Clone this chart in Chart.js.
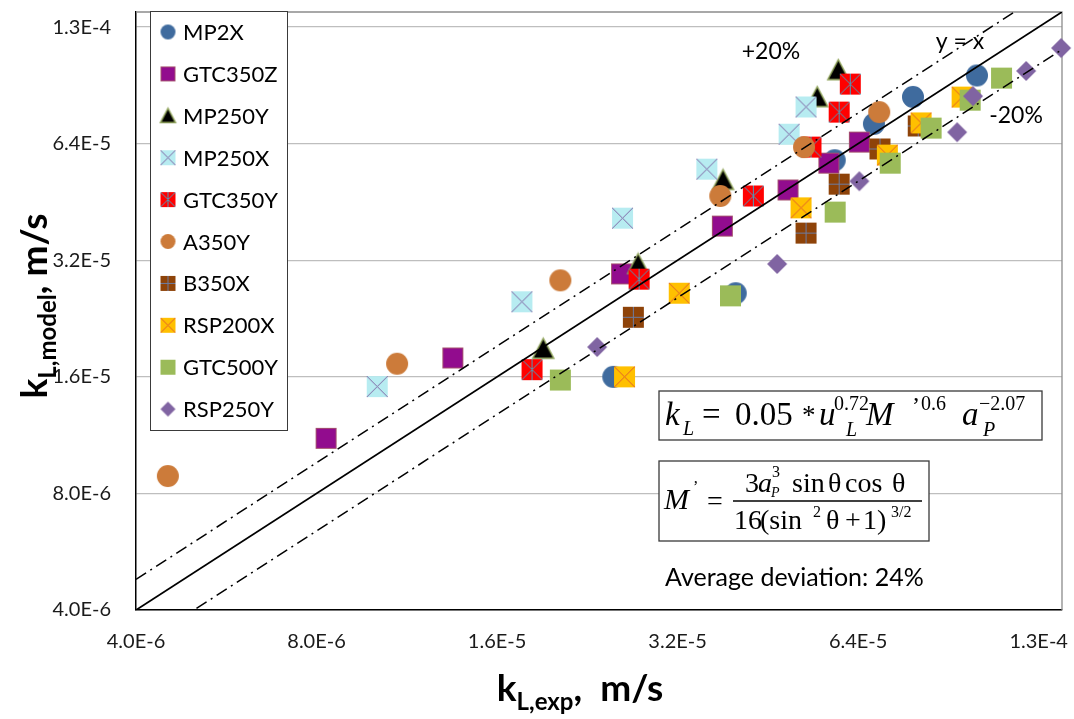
<!DOCTYPE html>
<html>
<head>
<meta charset="utf-8">
<script src="https://cdn.jsdelivr.net/npm/chart.js@4.4.0/dist/chart.umd.min.js"></script>
<style>
  html, body { margin: 0; padding: 0; background: #fff; }
  canvas { display: block; }
</style>
</head>
<body>
<canvas id="kLChart" width="1074" height="719"></canvas>
<script>
// both axes: log base 2, same range
var axisMin = 4.0e-6, axisMax = 1.4e-4;
var tickValues = [4.0e-6, 8.0e-6, 1.6e-5, 3.2e-5, 6.4e-5, 1.28e-4];
var tickLabels = ['4.0E-6', '8.0E-6', '1.6E-5', '3.2E-5', '6.4E-5', '1.3E-4'];

var seriesNames = ['MP2X', 'GTC350Z', 'MP250Y', 'MP250X', 'GTC350Y', 'A350Y', 'B350X', 'RSP200X', 'GTC500Y', 'RSP250Y'];

// kL measured (x) and kL from the model (y), m/s
var mp2xExp = [2.5e-5, 4.0e-5, 5.85e-5, 6.8e-5, 7.9e-5, 1.01e-4];
var mp2xModel = [1.6e-5, 2.63e-5, 5.8e-5, 7.2e-5, 8.45e-5, 9.6e-5];
var gtc350zExp = [8.3e-6, 1.35e-5, 2.58e-5, 3.8e-5, 4.89e-5, 5.72e-5, 6.43e-5];
var gtc350zModel = [1.11e-5, 1.79e-5, 2.95e-5, 3.92e-5, 4.86e-5, 5.7e-5, 6.46e-5];
var mp250yExp = [1.91e-5, 2.75e-5, 3.81e-5, 5.47e-5, 5.93e-5];
var mp250yModel = [1.89e-5, 3.13e-5, 5.16e-5, 8.44e-5, 9.91e-5];
var mp250xExp = [1.01e-5, 1.76e-5, 2.59e-5, 3.58e-5, 4.91e-5, 5.24e-5];
var mp250xModel = [1.51e-5, 2.5e-5, 4.11e-5, 5.5e-5, 6.77e-5, 7.96e-5];
var gtc350yExp = [1.83e-5, 2.76e-5, 4.28e-5, 5.34e-5, 5.95e-5, 6.21e-5];
var gtc350yModel = [1.67e-5, 2.86e-5, 4.69e-5, 6.27e-5, 7.72e-5, 9.12e-5];
var a350yExp = [4.52e-6, 1.09e-5, 2.04e-5, 3.77e-5, 5.2e-5, 6.94e-5];
var a350yModel = [8.87e-6, 1.73e-5, 2.84e-5, 4.69e-5, 6.27e-5, 7.72e-5];
var b350xExp = [2.7e-5, 5.24e-5, 5.95e-5, 6.96e-5, 8.06e-5];
var b350xModel = [2.28e-5, 3.76e-5, 5.03e-5, 6.2e-5, 7.11e-5];
var rsp200xExp = [2.61e-5, 3.22e-5, 5.14e-5, 7.16e-5, 8.15e-5, 9.54e-5];
var rsp200xModel = [1.6e-5, 2.63e-5, 4.37e-5, 5.98e-5, 7.24e-5, 8.44e-5];
var gtc500yExp = [2.04e-5, 3.92e-5, 5.86e-5, 7.24e-5, 8.47e-5, 9.84e-5, 1.11e-4];
var gtc500yModel = [1.57e-5, 2.59e-5, 4.26e-5, 5.7e-5, 7.02e-5, 8.29e-5, 9.45e-5];
var rsp250yExp = [2.35e-5, 4.69e-5, 6.43e-5, 9.36e-5, 9.95e-5, 1.22e-4, 1.395e-4];
var rsp250yModel = [1.91e-5, 3.13e-5, 5.12e-5, 6.85e-5, 8.49e-5, 9.86e-5, 1.13e-4];

// +20%, y = x, -20%
var bandRatios = [1.2, 1.0, 0.8];

var expSets = [mp2xExp, gtc350zExp, mp250yExp, mp250xExp, gtc350yExp, a350yExp, b350xExp, rsp200xExp, gtc500yExp, rsp250yExp];
var modelSets = [mp2xModel, gtc350zModel, mp250yModel, mp250xModel, gtc350yModel, a350yModel, b350xModel, rsp200xModel, gtc500yModel, rsp250yModel];

// marker look per series: shape, fill, line colour of the inner cross
var markerLook = [
  ['circle', '#3F6B9E', null],
  ['square', '#920C8E', '#A4506E'],
  ['triangle', '#000000', '#8FA35A'],
  ['squareX', '#B7ECF1', '#8068A6'],
  ['squareStar', '#FF0000', '#4C9CBA'],
  ['circle', '#CC7B3A', null],
  ['squarePlus', '#8E4309', '#6C7CA2'],
  ['squareX', '#FFC000', '#E2602C'],
  ['square', '#9BBB59', null],
  ['diamond', '#8064A2', null]
];

function marker(look, size) {
  var kind = look[0], fill = look[1], line = look[2];
  var c = document.createElement('canvas');
  c.width = c.height = size + 4;
  var g = c.getContext('2d'), m = c.width / 2, h = size / 2;
  g.fillStyle = fill;
  if (kind === 'circle') {
    g.beginPath(); g.arc(m, m, h, 0, Math.PI * 2); g.fill();
  } else if (kind === 'triangle') {
    g.beginPath(); g.moveTo(m, m - h); g.lineTo(m + h, m + h * 0.9); g.lineTo(m - h, m + h * 0.9); g.closePath();
    g.fill(); g.strokeStyle = line; g.lineWidth = 1.5; g.stroke();
  } else if (kind === 'diamond') {
    g.beginPath(); g.moveTo(m, m - h); g.lineTo(m + h, m); g.lineTo(m, m + h); g.lineTo(m - h, m); g.closePath(); g.fill();
  } else {
    g.fillRect(m - h, m - h, size, size);
    if (kind === 'square' && line) { g.strokeStyle = line; g.lineWidth = 1; g.strokeRect(m - h + 0.5, m - h + 0.5, size - 1, size - 1); }
    g.strokeStyle = line; g.lineWidth = 1;
    g.beginPath();
    if (kind === 'squareX' || kind === 'squareStar') {
      g.moveTo(m - h, m - h); g.lineTo(m + h, m + h);
      g.moveTo(m + h, m - h); g.lineTo(m - h, m + h);
    }
    if (kind === 'squareStar' || kind === 'squarePlus') { g.moveTo(m, m - h); g.lineTo(m, m + h); }
    if (kind === 'squarePlus') { g.moveTo(m - h, m); g.lineTo(m + h, m); }
    g.stroke();
  }
  return c;
}

var datasets = seriesNames.map(function (name, i) {
  var look = markerLook[i];
  var size = look[0] === 'circle' ? 22 : (look[0] === 'diamond' ? 20 : 21);
  return {
    label: name,
    data: expSets[i].map(function (x, k) { return { x: x, y: modelSets[i][k] }; }),
    pointStyle: marker(look, size),
    legendStyle: marker(look, 15),
    clip: false,
    order: seriesNames.length - i
  };
});

bandRatios.forEach(function (r) {
  datasets.push({
    label: r === 1 ? 'y = x' : (r > 1 ? '+20%' : '-20%'),
    data: [{ x: axisMin, y: axisMin * r }, { x: axisMax, y: axisMax * r }],
    showLine: true,
    pointRadius: 0,
    borderColor: '#000',
    borderWidth: r === 1 ? 1.8 : 1.5,
    borderDash: r === 1 ? [] : [12, 5, 2, 5],
    order: 0
  });
});

var tickFont = { family: 'Lato', size: 20 };

function logAxis(isY) {
  return {
    type: 'logarithmic',
    min: axisMin,
    max: axisMax,
    afterBuildTicks: function (s) { s.ticks = tickValues.map(function (v) { return { value: v }; }); },
    ticks: {
      autoSkip: false, maxRotation: 0, font: tickFont, color: '#1a1a1a',
      padding: isY ? 25 : 20,
      callback: function (v, i) { return tickLabels[i]; }
    },
    grid: { display: isY, color: '#BEBEBE', lineWidth: 1.3, drawTicks: false },
    border: { color: '#000', width: 1.5 },
    afterFit: function (s) {
      if (isY) { s.width = 136; s.paddingTop = 0; s.paddingBottom = 0; }
      else { s.height = 109; s.paddingLeft = 0; s.paddingRight = 0; }
    }
  };
}

function runs(c, parts, x, y, center) {
  var total = 0;
  parts.forEach(function (p) { c.font = p[1]; total += c.measureText(p[0]).width; });
  var cx = center ? x - total / 2 : x;
  parts.forEach(function (p) {
    c.font = p[1];
    c.fillText(p[0], cx, y + (p[2] || 0));
    cx += c.measureText(p[0]).width;
  });
}

function serif(px, italic) { return (italic ? 'italic ' : '') + px + 'px "Liberation Serif"'; }

var decor = {
  id: 'decor',
  beforeDatasetsDraw: function (chart) {
    var a = chart.chartArea, c = chart.ctx;
    c.save();
    c.strokeStyle = '#8C8C8C'; c.lineWidth = 1.3;
    c.beginPath(); c.moveTo(a.left, a.top); c.lineTo(a.right, a.top); c.lineTo(a.right, a.bottom); c.stroke();
    c.restore();
  },
  afterDraw: function (chart) {
    var c = chart.ctx;
    c.save();
    c.fillStyle = '#000';
    c.textBaseline = 'alphabetic';
    c.textAlign = 'left';

    // legend box
    c.fillStyle = '#fff'; c.fillRect(150, 11, 137, 419);
    c.strokeStyle = '#3A3A3A'; c.lineWidth = 1; c.strokeRect(150.5, 11.5, 137, 419);
    c.textBaseline = 'middle'; c.font = '22px Lato'; c.fillStyle = '#000';
    datasets.slice(0, seriesNames.length).forEach(function (d, i) {
      var y = 32 + 41.9 * i, img = d.legendStyle;
      c.drawImage(img, 168 - img.width / 2, y - img.height / 2);
      c.fillText(d.label, 183, y + 1);
    });

    // band labels
    c.textAlign = 'center'; c.font = '23px Lato';
    c.fillText('+20%', 771, 52);
    c.fillText('y = x', 960, 42);
    c.fillText('-20%', 1016, 116);

    // correlation boxes
    c.textAlign = 'left'; c.textBaseline = 'alphabetic';
    c.fillStyle = '#fff'; c.strokeStyle = '#3A3A3A'; c.lineWidth = 1.3;
    c.fillRect(659, 391, 383, 49); c.strokeRect(659, 391, 383, 49);
    c.fillRect(659, 461, 270, 80); c.strokeRect(659, 461, 270, 80);
    c.fillStyle = '#000';
    [
      ['k', serif(33, true), 665, 425], ['L', serif(20, true), 683, 435],
      ['=', serif(33), 702, 425], ['0.05', serif(33), 735, 425], ['*', serif(27), 802, 424],
      ['u', serif(33, true), 819, 425], ['0.72', serif(20), 834, 410], ['L', serif(20, true), 846, 436],
      ['M', serif(33, true), 866, 425], ['\u2019', serif(24), 912, 413], ['0.6', serif(20), 921, 410],
      ['a', serif(33, true), 962, 425], ['\u22122.07', serif(20), 979, 410], ['P', serif(20, true), 983, 436],

      ['M', serif(30, true), 664, 509], ['\u2019', serif(16), 693, 492], ['=', serif(28), 707, 510],
      ['3', serif(28), 745, 492], ['a', serif(28, true), 758, 492], ['3', serif(16), 772, 477], ['P', serif(14, true), 771, 497],
      ['sin', serif(28), 792, 492], ['\u03B8', serif(28), 828, 492], ['cos', serif(28), 845, 492], ['\u03B8', serif(28), 892, 492],
      ['16', serif(28), 734, 529], ['(sin', serif(28), 760, 529], ['2', serif(16), 813, 517], ['\u03B8', serif(28), 826, 529],
      ['+', serif(28), 845, 529], ['1)', serif(28), 863, 529], ['3/2', serif(16), 891, 517]
    ].forEach(function (t) { c.font = t[1]; c.fillText(t[0], t[2], t[3]); });
    c.lineWidth = 1.4; c.strokeStyle = '#000';
    c.beginPath(); c.moveTo(733, 501); c.lineTo(922, 501); c.stroke();

    c.font = '25px Lato';
    c.fillText('Average deviation: 24%', 665, 586);

    // axis titles
    var big = 'bold 37px Lato', small = 'bold 24px Lato';
    runs(c, [['k', big], ['L,exp', small, 9], [',  m/s', big]], 580, 701, true);
    c.translate(47, 306); c.rotate(-Math.PI / 2);
    runs(c, [['k', big], ['L,model', small, 9], [', m/s', big]], 0, 0, true);
    c.restore();
  }
};

var kLChart = new Chart(document.getElementById('kLChart').getContext('2d'), {
  type: 'scatter',
  data: { datasets: datasets },
  options: {
    responsive: false,
    animation: false,
    layout: { padding: { top: 12, right: 12, left: 0, bottom: 0 } },
    plugins: { legend: { display: false }, tooltip: { enabled: false } },
    scales: { x: logAxis(false), y: logAxis(true) }
  },
  plugins: [decor]
});
</script>
</body>
</html>
